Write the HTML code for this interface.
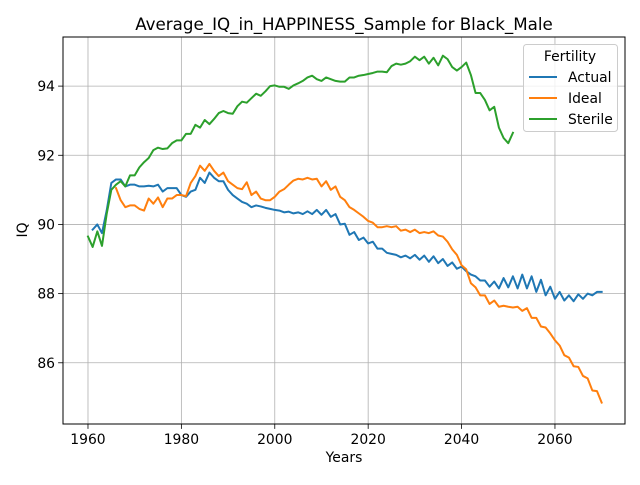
<!DOCTYPE html>
<html><head><meta charset="utf-8"><style>
body{margin:0;background:#fff;font-family:"Liberation Sans","DejaVu Sans",sans-serif}
svg text{font-family:"DejaVu Sans","Liberation Sans",sans-serif}
</style></head><body>
<svg id="c" width="640" height="480" xmlns="http://www.w3.org/2000/svg"></svg>
<script>
const actualStart = 1961;
const actualValues = [89.85,90.0,89.75,90.4,91.2,91.3,91.3,91.1,91.15,91.15,91.1,91.1,91.12,91.1,91.15,90.95,91.05,91.05,91.05,90.85,90.8,90.95,91.0,91.35,91.2,91.5,91.35,91.25,91.25,91.0,90.85,90.75,90.65,90.6,90.5,90.55,90.52,90.48,90.45,90.42,90.4,90.35,90.37,90.32,90.35,90.3,90.38,90.3,90.42,90.28,90.42,90.22,90.3,90.0,90.02,89.7,89.78,89.55,89.62,89.45,89.5,89.3,89.3,89.18,89.15,89.12,89.05,89.1,89.02,89.12,88.98,89.1,88.92,89.08,88.88,89.0,88.8,88.9,88.72,88.78,88.65,88.55,88.5,88.38,88.38,88.2,88.35,88.15,88.45,88.18,88.5,88.15,88.55,88.15,88.5,88.05,88.4,87.95,88.2,87.85,88.05,87.8,87.95,87.78,87.98,87.85,88.0,87.95,88.05,88.05];
const idealStart = 1966;
const idealValues = [91.05,90.7,90.5,90.55,90.55,90.45,90.4,90.75,90.6,90.78,90.5,90.75,90.75,90.85,90.85,90.82,91.2,91.4,91.7,91.55,91.75,91.55,91.4,91.5,91.25,91.15,91.05,91.02,91.22,90.85,90.95,90.75,90.7,90.7,90.8,90.95,91.02,91.15,91.27,91.32,91.3,91.35,91.3,91.32,91.1,91.25,91.0,91.1,90.8,90.7,90.5,90.42,90.32,90.22,90.1,90.05,89.92,89.92,89.95,89.92,89.95,89.82,89.85,89.78,89.85,89.75,89.78,89.75,89.8,89.68,89.65,89.5,89.28,89.12,88.82,88.7,88.3,88.18,87.95,87.95,87.7,87.8,87.62,87.65,87.62,87.6,87.62,87.5,87.58,87.3,87.3,87.05,87.02,86.85,86.65,86.5,86.22,86.15,85.9,85.88,85.62,85.55,85.2,85.18,84.85];
const sterileStart = 1960;
const sterileValues = [89.65,89.35,89.8,89.38,90.3,91.0,91.15,91.25,91.1,91.42,91.42,91.65,91.8,91.92,92.15,92.22,92.18,92.2,92.35,92.43,92.43,92.62,92.62,92.88,92.8,93.02,92.9,93.05,93.22,93.28,93.22,93.2,93.42,93.55,93.52,93.65,93.78,93.72,93.85,94.0,94.02,93.98,93.98,93.92,94.02,94.08,94.15,94.25,94.3,94.2,94.15,94.25,94.2,94.15,94.13,94.13,94.25,94.25,94.3,94.32,94.35,94.38,94.42,94.42,94.4,94.58,94.65,94.62,94.65,94.72,94.85,94.75,94.85,94.65,94.82,94.6,94.88,94.78,94.55,94.45,94.55,94.68,94.32,93.8,93.8,93.6,93.3,93.4,92.8,92.5,92.35,92.65];
const xTicks = [1960,1980,2000,2020,2040,2060];
const yTicks = [86,88,90,92,94];

const L=63,R=625,T=37,B=424;
const X0=1954.65,X1=2075.0,Y0=84.23,Y1=95.42;
const sx=v=>L+(v-X0)/(X1-X0)*(R-L);
const sy=v=>B-(v-Y0)/(Y1-Y0)*(B-T);
const svg=document.getElementById('c');
const NS='http://www.w3.org/2000/svg';
function mk(tag,attrs,parent){const e=document.createElementNS(NS,tag);for(const k in attrs)e.setAttribute(k,attrs[k]);(parent||svg).appendChild(e);return e;}
xTicks.forEach(t=>{const l=mk('line',{x1:sx(t),x2:sx(t),y1:T,y2:B,stroke:'#b0b0b0','stroke-width':0.8});


const k=mk('line',{x1:sx(t),x2:sx(t),y1:B,y2:B+4.9,stroke:'#000','stroke-width':0.8});


const tx=mk('text',{x:sx(t),y:B+20,'font-size':13.9,'text-anchor':'middle'});tx.textContent=t;

});
yTicks.forEach(t=>{const l=mk('line',{x1:L,x2:R,y1:sy(t),y2:sy(t),stroke:'#b0b0b0','stroke-width':0.8});


const k=mk('line',{x1:L-4.9,x2:L,y1:sy(t),y2:sy(t),stroke:'#000','stroke-width':0.8});


const tx=mk('text',{x:L-8,y:sy(t)+5,'font-size':13.9,'text-anchor':'end'});tx.textContent=t;

});
function series(start,vals,color,name){const pts=vals.map((v,i)=>sx(start+i).toFixed(2)+','+sy(v).toFixed(2)).join(' ');
const p=mk('polyline',{points:pts,fill:'none',stroke:color,'stroke-width':2,'stroke-linejoin':'round','stroke-linecap':'square'});

}
series(actualStart,actualValues,'#1f77b4','actual-line');
series(idealStart,idealValues,'#ff7f0e','ideal-line');
series(sterileStart,sterileValues,'#2ca02c','sterile-line');
const fr=mk('rect',{x:L,y:T,width:R-L,height:B-T,fill:'none',stroke:'#000','stroke-width':1});


</script>
<svg style="position:absolute;left:0;top:0" width="640" height="480" xmlns="http://www.w3.org/2000/svg">
<text x="344" y="30" font-size="16.7" text-anchor="middle">Average_IQ_in_HAPPINESS_Sample for Black_Male</text>
<text x="344" y="462" font-size="13.9" text-anchor="middle">Years</text>
<text x="27" y="230" font-size="13.9" text-anchor="middle" transform="rotate(-90 27 230)">IQ</text>
<g>
<rect x="523.5" y="44.5" width="94" height="87" rx="3" fill="#fff" fill-opacity="0.8" stroke="#ccc" stroke-width="1"/>
<text x="570" y="61" font-size="13.9" text-anchor="middle">Fertility</text>
<g><line x1="529" x2="557" y1="77" y2="77" stroke="#1f77b4" stroke-width="2"/><text x="568" y="82" font-size="13.9">Actual</text></g>
<g><line x1="529" x2="557" y1="98" y2="98" stroke="#ff7f0e" stroke-width="2"/><text x="568" y="103" font-size="13.9">Ideal</text></g>
<g><line x1="529" x2="557" y1="119" y2="119" stroke="#2ca02c" stroke-width="2"/><text x="568" y="124" font-size="13.9">Sterile</text></g>
</g>
</svg>
</body></html>
